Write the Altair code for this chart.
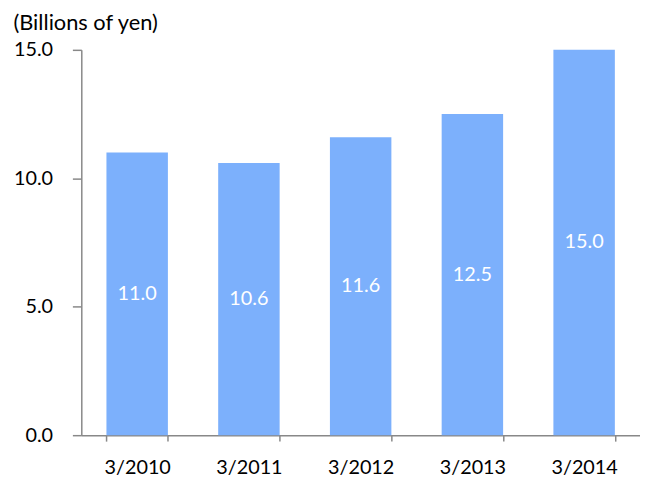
import altair as alt
import pandas as pd

categories = ["3/2010", "3/2011", "3/2012", "3/2013", "3/2014"]
values = [11.0, 10.6, 11.6, 12.5, 15.0]

df = pd.DataFrame({"period": categories, "value": values})
df["half"] = df["value"] / 2

FONT = "Lato"

base = alt.Chart(df)

bars = base.mark_bar(color="#7cb0fc").encode(
    x=alt.X(
        "period:N",
        sort=categories,
        scale=alt.Scale(paddingInner=0.45, paddingOuter=0.225),
        axis=alt.Axis(
            title=None,
            labelAngle=0,
            tickBand="extent",
            tickSize=6,
            labelPadding=17,
            labelFontSize=20,
            labelFont=FONT,
            labelColor="#000000",
            domainColor="#888888",
            tickColor="#888888",
            domainWidth=1.5,
            tickWidth=1.5,
            grid=False,
        ),
    ),
    y=alt.Y(
        "value:Q",
        scale=alt.Scale(domain=[0, 15], nice=False),
        axis=alt.Axis(
            title="(Billions of yen)",
            titleAngle=0,
            titleAlign="left",
            titleBaseline="alphabetic",
            titleX=-69,
            titleY=-21,
            titleFont=FONT,
            titleFontSize=22,
            titleFontWeight="normal",
            titleColor="#000000",
            values=[0, 5, 10, 15],
            format=".1f",
            tickSize=9,
            labelPadding=20,
            labelFontSize=20,
            labelFont=FONT,
            labelColor="#000000",
            domainColor="#888888",
            tickColor="#888888",
            domainWidth=1.5,
            tickWidth=1.5,
            grid=False,
        ),
    ),
)

labels = base.mark_text(color="white", fontSize=20, font=FONT).encode(
    x=alt.X("period:N", sort=categories),
    y=alt.Y("half:Q"),
    text=alt.Text("value:Q", format=".1f"),
)

chart = (
    alt.layer(bars, labels)
    .properties(
        width=564,
        height=389,
        background="white",
        autosize=alt.AutoSizeParams(type="none"),
        padding={"left": 74, "top": 40, "right": 0, "bottom": 43},
    )
    .configure_view(stroke=None)
)

chart.save("out.html", embed_options={"renderer": "svg", "actions": False})
